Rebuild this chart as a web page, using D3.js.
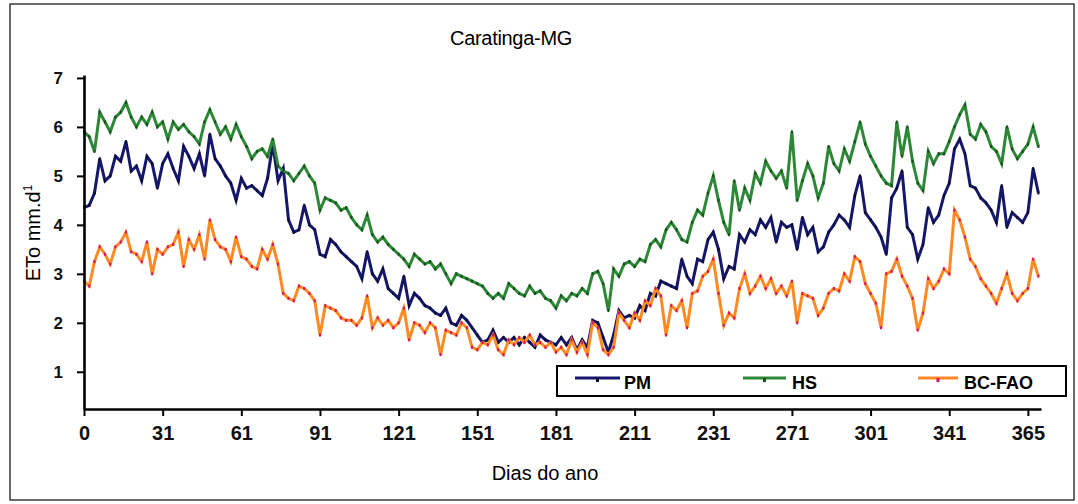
<!DOCTYPE html>
<html>
<head>
<meta charset="utf-8">
<script src="https://cdn.jsdelivr.net/npm/d3@7"></script>
<style>
	body { margin: 0; background: #fff; }
	text { font-family: "Liberation Sans", Arial, sans-serif; }
</style>
</head>
<body>
<svg id="etoChart"></svg>
<script>
// days 0..364, one reading every 2 days
var dayStep = 2;

var pmValues = [
	4.35, 4.4, 4.65, 5.35, 4.9,  5.0, 5.4, 5.3, 5.7, 5.1,
	5.2, 4.9, 5.4, 5.25, 4.75,  5.25, 5.45, 5.15, 4.9, 5.6,
	5.4, 5.15, 5.45, 5.0, 5.85,  5.35, 5.2, 5.0, 4.85, 4.5,
	4.95, 4.75, 4.8, 4.7, 4.6,  4.95, 5.65, 4.9, 5.15, 4.1,
	3.85, 3.9, 4.4, 4.0, 3.9,  3.4, 3.35, 3.7, 3.6, 3.45,
	3.35, 3.25, 3.15, 2.9, 3.45,  3.0, 2.85, 3.1, 2.7, 2.6,
	2.5, 2.95, 2.35, 2.6, 2.5,  2.35, 2.3, 2.2, 2.15, 2.3,
	2.0, 1.95, 2.15, 2.05, 1.9,  1.75, 1.6, 1.65, 1.85, 1.6,
	1.7, 1.6, 1.7, 1.55, 1.7,  1.6, 1.5, 1.75, 1.65, 1.6,
	1.55, 1.7, 1.55, 1.7, 1.45,  1.65, 1.5, 2.05, 2.0, 1.7,
	1.4, 1.75, 2.25, 2.1, 2.15,  2.1, 2.35, 2.25, 2.6, 2.55,
	2.85, 2.8, 2.75, 2.7, 3.3,  2.95, 2.8, 3.3, 3.25, 3.7,
	3.85, 3.5, 2.9, 3.15, 3.1,  3.8, 3.65, 3.9, 3.8, 4.1,
	3.95, 4.15, 3.65, 4.05, 3.95,  4.0, 3.5, 4.15, 3.8, 3.95,
	3.45, 3.55, 3.85, 4.0, 4.2,  4.1, 3.95, 4.6, 5.0, 4.25,
	4.1, 3.95, 3.75, 3.4, 4.55,  4.75, 5.1, 3.95, 3.8, 3.3,
	3.6, 4.35, 4.05, 4.2, 4.6,  4.85, 5.55, 5.75, 5.45, 4.8,
	4.75, 4.55, 4.45, 4.3, 4.05,  4.8, 3.95, 4.25, 4.15, 4.05,
	4.25, 5.15, 4.65
];

var hsValues = [
	5.9, 5.8, 5.5, 6.3, 6.1,  5.9, 6.2, 6.3, 6.5, 6.2,
	6.0, 6.2, 6.05, 6.3, 6.0,  6.1, 5.75, 6.1, 5.95, 6.05,
	5.9, 5.8, 5.65, 6.1, 6.35,  6.1, 5.85, 6.0, 5.75, 6.05,
	5.8, 5.6, 5.35, 5.5, 5.55,  5.4, 5.75, 5.2, 5.1, 5.05,
	4.9, 5.05, 5.2, 5.0, 4.85,  4.3, 4.55, 4.5, 4.45, 4.3,
	4.35, 4.15, 4.0, 3.9, 4.2,  3.8, 3.65, 3.75, 3.6, 3.5,
	3.4, 3.3, 3.15, 3.4, 3.3,  3.2, 3.25, 3.1, 3.2, 3.0,
	2.8, 3.0, 2.95, 2.9, 2.85,  2.8, 2.75, 2.6, 2.5, 2.6,
	2.5, 2.8, 2.7, 2.6, 2.55,  2.75, 2.6, 2.65, 2.5, 2.45,
	2.3, 2.55, 2.45, 2.6, 2.55,  2.7, 2.6, 3.0, 3.05, 2.8,
	2.25, 3.1, 2.95, 3.2, 3.25,  3.15, 3.3, 3.25, 3.6, 3.7,
	3.55, 3.9, 4.05, 3.9, 3.7,  3.65, 4.05, 4.3, 4.2, 4.65,
	5.0, 4.5, 4.05, 3.8, 4.9,  4.3, 4.75, 4.5, 5.05, 4.85,
	5.3, 5.1, 4.95, 5.1, 4.75,  5.9, 4.5, 4.9, 5.25, 5.0,
	4.55, 4.85, 5.6, 5.25, 5.1,  5.55, 5.3, 5.7, 6.1, 5.65,
	5.4, 5.2, 5.0, 4.85, 4.8,  6.1, 5.4, 6.0, 5.3, 4.85,
	4.7, 5.5, 5.25, 5.45, 5.45,  5.7, 6.0, 6.25, 6.45, 5.85,
	5.75, 6.05, 5.9, 5.6, 5.5,  5.25, 6.0, 5.55, 5.35, 5.5,
	5.65, 6.0, 5.6
];

var bcFaoValues = [
	2.85, 2.75, 3.25, 3.55, 3.4,  3.2, 3.55, 3.65, 3.85, 3.45,
	3.4, 3.25, 3.65, 3.0, 3.5,  3.4, 3.55, 3.6, 3.85, 3.15,
	3.7, 3.5, 3.8, 3.3, 4.1,  3.7, 3.55, 3.5, 3.25, 3.75,
	3.35, 3.3, 3.15, 3.1, 3.5,  3.3, 3.6, 3.2, 2.6, 2.5,
	2.45, 2.75, 2.7, 2.6, 2.45,  1.75, 2.35, 2.3, 2.25, 2.1,
	2.05, 2.05, 1.95, 2.1, 2.55,  1.9, 2.1, 1.95, 2.05, 1.9,
	2.0, 2.3, 1.65, 2.0, 1.95,  1.8, 2.0, 1.9, 1.35, 1.85,
	1.8, 1.75, 2.0, 1.9, 1.5,  1.45, 1.6, 1.55, 1.75, 1.45,
	1.35, 1.65, 1.55, 1.7, 1.6,  1.75, 1.55, 1.6, 1.5, 1.6,
	1.4, 1.5, 1.35, 1.65, 1.4,  1.6, 1.35, 2.0, 1.9, 1.45,
	1.35, 1.5, 2.2, 2.05, 1.9,  2.2, 2.05, 2.45, 2.35, 2.7,
	2.55, 1.75, 2.35, 2.25, 2.45,  1.9, 2.6, 2.65, 2.95, 3.05,
	3.3, 2.6, 1.95, 2.2, 2.1,  2.7, 3.0, 2.6, 2.75, 2.95,
	2.7, 2.9, 2.6, 2.75, 2.55,  2.85, 2.0, 2.6, 2.55, 2.5,
	2.15, 2.3, 2.6, 2.7, 2.65,  3.0, 2.85, 3.35, 3.25, 2.8,
	2.6, 2.4, 1.9, 3.0, 3.05,  3.3, 2.95, 2.75, 2.5, 1.85,
	2.2, 2.9, 2.7, 2.85, 3.1,  3.0, 4.3, 4.1, 3.75, 3.3,
	3.15, 2.9, 2.75, 2.6, 2.4,  2.7, 3.0, 2.6, 2.45, 2.6,
	2.7, 3.3, 2.95
];

var seriesNames = ["PM", "HS", "BC-FAO"];
var seriesColors = ["#17176a", "#2c8736", "#ff8a24"];
var markerColors = ["#0a0a33", "#16501c", "#d6145a"];

// the original tick labels sit every 30 days
var xTickDays = [0, 30, 60, 90, 120, 150, 180, 210, 240, 270, 300, 330, 360];
var xTickLabels = ["0", "31", "61", "91", "121", "151", "181", "211", "231", "271", "301", "341", "365"];
var yTicks = [1, 2, 3, 4, 5, 6, 7];

var width = 1078, height = 504;
var margin = { top: 75, right: 37, bottom: 95, left: 84 };

var svg = d3.select("#etoChart")
	.attr("width", width)
	.attr("height", height);

svg.append("rect")
	.attr("x", 10).attr("y", 4)
	.attr("width", 1064).attr("height", 496)
	.attr("fill", "none")
	.attr("stroke", "#3a3a3a")
	.attr("stroke-width", 1.5);

var xScale = d3.scaleLinear().domain([0, 365]).range([margin.left, width - margin.right]);
var yScale = d3.scaleLinear().domain([0.24, 7.06]).range([height - margin.bottom, margin.top]);

var allSeries = [pmValues, hsValues, bcFaoValues].map(function(vals, s) {
	return vals.map(function(v, i) { return { day: i * dayStep, value: v, s: s }; });
});

var line = d3.line()
	.x(function(d) { return xScale(d.day); })
	.y(function(d) { return yScale(d.value); });

var plot = svg.append("g").attr("class", "plot");

allSeries.forEach(function(data, s) {
	plot.append("path")
		.datum(data)
		.attr("fill", "none")
		.attr("stroke", seriesColors[s])
		.attr("stroke-width", 3)
		.attr("stroke-linejoin", "miter")
		.attr("d", line);
	plot.selectAll(".marker" + s)
		.data(data)
		.enter()
		.append("rect")
		.attr("class", "marker" + s)
		.attr("x", function(d) { return xScale(d.day) - 1; })
		.attr("y", function(d) { return yScale(d.value) - 1.5; })
		.attr("width", 2)
		.attr("height", 3)
		.attr("fill", markerColors[s]);
});

// axes
var xAxis = svg.append("g")
	.attr("class", "xAxis")
	.attr("transform", "translate(0," + (height - margin.bottom) + ")")
	.call(d3.axisBottom(xScale)
		.tickValues(xTickDays)
		.tickFormat(function(d, i) { return xTickLabels[i]; })
		.tickSize(7)
		.tickSizeOuter(0)
		.tickPadding(10));
xAxis.select(".domain").attr("stroke", "#000").attr("stroke-width", 2.6);
xAxis.selectAll(".tick line").attr("stroke", "#000").attr("stroke-width", 2);
xAxis.selectAll(".tick text")
	.attr("fill", "#111")
	.style("font-family", "'Liberation Sans Narrow', 'Arial Narrow', 'Liberation Sans', sans-serif")
	.style("font-weight", "bold")
	.style("font-size", "20px");

var yAxis = svg.append("g")
	.attr("class", "yAxis")
	.attr("transform", "translate(" + margin.left + ",0)")
	.call(d3.axisLeft(yScale)
		.tickValues(yTicks)
		.tickFormat(d3.format("d"))
		.tickSize(7)
		.tickSizeOuter(0)
		.tickPadding(14));
yAxis.select(".domain").attr("stroke", "#000").attr("stroke-width", 2.6);
yAxis.selectAll(".tick line").attr("stroke", "#000").attr("stroke-width", 2);
yAxis.selectAll(".tick text")
	.attr("fill", "#111")
	.style("font-weight", "bold")
	.style("font-size", "17px");

// titles
svg.append("text")
	.attr("x", 511).attr("y", 45)
	.attr("text-anchor", "middle")
	.style("font-size", "20px")
	.style("letter-spacing", "-0.3px")
	.text("Caratinga-MG");

svg.append("text")
	.attr("x", 545).attr("y", 480)
	.attr("text-anchor", "middle")
	.style("font-size", "20px")
	.text("Dias do ano");

var yTitle = svg.append("text")
	.attr("transform", "translate(40,233) rotate(-90)")
	.attr("text-anchor", "middle")
	.style("font-size", "20px");
yTitle.append("tspan").text("ETo mm.d");
yTitle.append("tspan").attr("dy", -8).style("font-size", "12px").text("1");

// legend
var legend = svg.append("g").attr("class", "legend");
legend.append("rect")
	.attr("x", 557).attr("y", 366)
	.attr("width", 509).attr("height", 30)
	.attr("fill", "#fff")
	.attr("stroke", "#000")
	.attr("stroke-width", 2);

var legendItems = [
	{ x1: 575, x2: 620, tx: 624 },
	{ x1: 743, x2: 786, tx: 792 },
	{ x1: 918, x2: 958, tx: 964 }
];
legendItems.forEach(function(item, i) {
	legend.append("line")
		.attr("x1", item.x1).attr("x2", item.x2)
		.attr("y1", 378).attr("y2", 378)
		.attr("stroke", seriesColors[i])
		.attr("stroke-width", 3);
	legend.append("rect")
		.attr("x", (item.x1 + item.x2) / 2 - 1.5).attr("y", 378)
		.attr("width", 3).attr("height", 4)
		.attr("fill", markerColors[i]);
	legend.append("text")
		.attr("x", item.tx).attr("y", 389)
		.style("font-weight", "bold")
		.style("font-size", "18px")
		.text(seriesNames[i]);
});
</script>
</body>
</html>
